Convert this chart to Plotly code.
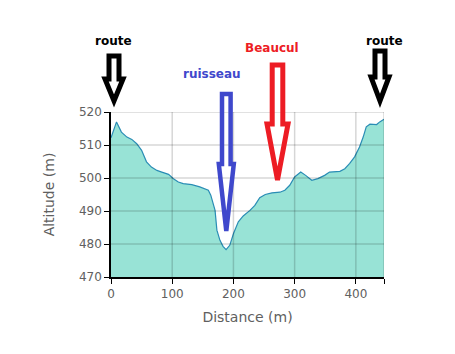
import plotly.graph_objects as go

# Elevation profile data (distance in m, altitude in m)
distance = [0, 9, 17, 26, 34, 42, 50, 58, 66, 75, 83, 94, 102, 110, 118, 132, 145, 159, 163, 170,
            173, 178, 183, 188, 194, 200, 208, 216, 227, 235, 243, 252, 263, 276, 284, 292, 300,
            310, 318, 328, 338, 349, 357, 374, 382, 390, 398, 406, 412, 417, 423, 434, 439, 446]
altitude = [512.2, 517.0, 513.9, 512.4, 511.7, 510.4, 508.4, 504.9, 503.3, 502.3, 501.8, 501.1,
            499.8, 498.8, 498.3, 498.0, 497.3, 496.3, 494.8, 490.2, 484.2, 481.1, 479.3, 478.3,
            479.6, 483.1, 486.7, 488.5, 490.2, 491.7, 494.0, 495.0, 495.5, 495.7, 496.3, 497.8,
            500.3, 501.8, 500.8, 499.3, 499.8, 500.8, 501.8, 502.0, 502.8, 504.4, 506.4, 509.4,
            512.4, 515.5, 516.3, 516.2, 517.0, 517.8]

x_ticks = [0, 100, 200, 300, 400, 446]
x_ticktext = ["0", "100", "200", "300", "400", ""]
y_ticks = [470, 480, 490, 500, 510, 520]

labels = ["route", "ruisseau", "Beaucul", "route"]
label_colors = ["#000000", "#3f48cc", "#ed1c24", "#000000"]

W, H = 455, 354
L, R, T, B = 111, 384, 112, 277
PW, PH = R - L, B - T


def px(x):
    return (x - L) / PW


def py(y):
    return (B - y) / PH


fig = go.Figure()
fig.add_trace(go.Scatter(
    x=distance, y=altitude, mode="lines", fill="tozeroy",
    line=dict(color="#2a8db5", width=1.2),
    fillcolor="#98e3d6", hoverinfo="skip", showlegend=False,
))

shapes = []
# grid lines drawn over the area (as in the reference)
grid = "rgba(0,0,0,0.16)"
for xv in x_ticks[1:]:
    shapes.append(dict(type="line", xref="x", yref="paper", x0=xv, x1=xv, y0=0, y1=1,
                       line=dict(color=grid, width=1.5), layer="above"))
for yv in y_ticks[1:]:
    shapes.append(dict(type="line", xref="paper", yref="y", x0=0, x1=1, y0=yv, y1=yv,
                       line=dict(color=grid, width=1.5), layer="above"))

# decorative hand-drawn arrows (pixel layout -> paper coords)
arrows = [
    # cx, top, headY, shaftHalf, headHalf, tipY, color, width
    (114, 56, 79, 5, 9, 101, "#000000", 5),
    (226.3, 94, 164, 4.3, 7.5, 231, "#3f48cc", 4.5),
    (277.5, 65, 124, 5.3, 10.5, 180, "#ed1c24", 5),
    (380, 51, 77, 5, 9, 101, "#000000", 5),
]
for cx, top, hy, sh, hh, tip, col, w in arrows:
    pts = [(cx - sh, hy), (cx - sh, top), (cx + sh, top), (cx + sh, hy),
           (cx + hh, hy), (cx, tip), (cx - hh, hy)]
    path = "M " + " L ".join(f"{px(a):.4f},{py(b):.4f}" for a, b in pts) + " Z"
    shapes.append(dict(type="path", path=path, xref="paper", yref="paper",
                       line=dict(color=col, width=w), fillcolor="rgba(0,0,0,0)",
                       layer="above"))

label_pos = [(113, 41), (212, 74), (272, 48), (384, 41)]
annotations = []
for txt, col, (lx, ly) in zip(labels, label_colors, label_pos):
    annotations.append(dict(text=f"<b>{txt}</b>", x=px(lx), y=py(ly), xref="paper", yref="paper",
                            showarrow=False, xanchor="center", yanchor="middle",
                            font=dict(family="DejaVu Sans", size=12, color=col)))

fig.update_layout(
    width=W, height=H,
    margin=dict(l=L, r=W - R, t=T, b=H - B),
    paper_bgcolor="white", plot_bgcolor="white",
    font=dict(family="DejaVu Sans", size=12, color="#606060"),
    shapes=shapes, annotations=annotations,
    xaxis=dict(range=[0, 446], tickvals=x_ticks, ticktext=x_ticktext, layer="above traces",
               showgrid=False,
               showline=True, linecolor="#000000", linewidth=1.5,
               ticks="outside", ticklen=5, tickcolor="#000000",
               zeroline=False, title=dict(text="Distance (m)", font=dict(size=14), standoff=12)),
    yaxis=dict(range=[470, 520], tickvals=y_ticks, layer="above traces",
               showgrid=False,
               showline=True, linecolor="#000000", linewidth=1.5,
               ticks="outside", ticklen=5, tickcolor="#000000",
               zeroline=False, title=dict(text="Altitude (m)", font=dict(size=14), standoff=21)),
)

fig.write_html("out.html")
